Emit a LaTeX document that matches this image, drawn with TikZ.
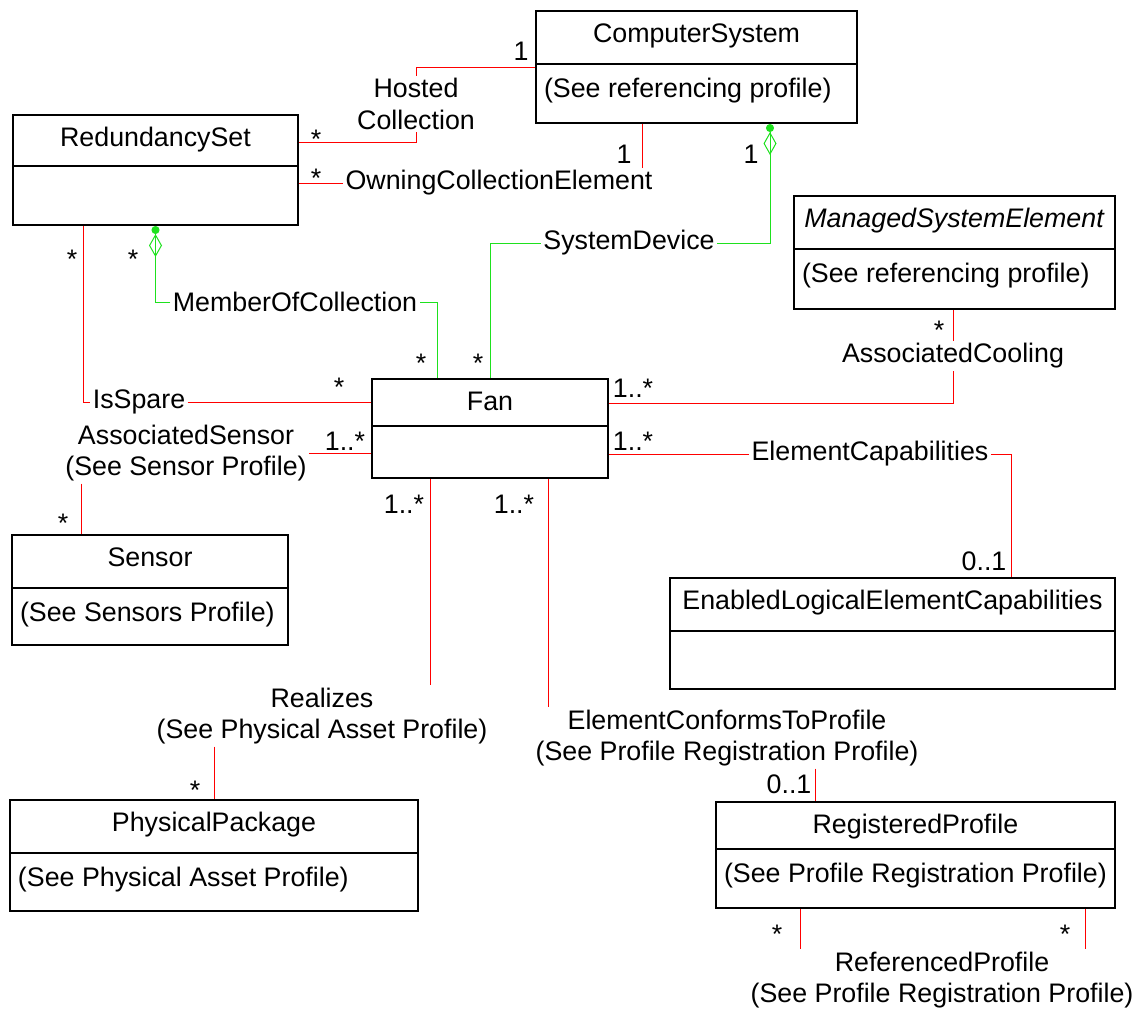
\documentclass[tikz,border=0pt]{standalone}
\usepackage{fontspec}
\setmainfont{Liberation Sans}
\usetikzlibrary{shapes.multipart, positioning, arrows.meta, calc}

\definecolor{umlgreen}{RGB}{30,225,30}
\newcommand{\titlestrut}[1]{\rule[-#1]{0pt}{\dimexpr15pt+#1\relax}}
\newcommand{\attrstrut}[1]{\rule[-\dimexpr#1-1pt\relax]{0pt}{\dimexpr15.25pt+#1\relax}}

\begin{document}
\begin{tikzpicture}[
        x=0.5pt, y=-0.5pt,
        every node/.style={font=\fontsize{13.4pt}{15.8pt}\selectfont},
        umlclass/.style={rectangle split, rectangle split parts=2, draw, line width=1pt, anchor=north west, inner xsep=4pt, inner ysep=0pt, rectangle split part align={center,left}},
        link/.style={draw=red, line width=0.5pt},
        complink/.style={draw=umlgreen, line width=0.5pt},
        aggr/.style={-{Diamond[open, length=11.5pt, width=6.5pt] Circle[length=4pt]}},
        assocname/.style={inner sep=1pt, align=center},
        multiplicity/.style={anchor=base, inner sep=0pt}
        ]

        \useasboundingbox (0,0) rectangle (1138,1012);

        % Classes
        \node[umlclass, minimum width=160.5pt] (cs) at (535,10) {\titlestrut{10.5pt}ComputerSystem\nodepart{two}\attrstrut{13.25pt}(See referencing profile)};
        \node[umlclass, minimum width=142.5pt] (rs) at (12,114) {\titlestrut{9.5pt}RedundancySet\nodepart{two}\attrstrut{13.25pt}};
        \node[umlclass, minimum width=160.5pt] (mse) at (793,195) {\titlestrut{10.5pt}\textit{ManagedSystemElement}\nodepart{two}\attrstrut{13.75pt}(See referencing profile)};
        \node[umlclass, minimum width=118pt] (fan) at (371,378) {\titlestrut{7.5pt}Fan\nodepart{two}\attrstrut{9.75pt}};
        \node[umlclass, minimum width=138pt] (sensor) at (11,534) {\titlestrut{10.5pt}Sensor\nodepart{two}\attrstrut{12.25pt}(See Sensors Profile)};
        \node[umlclass, minimum width=222.5pt] (elec) at (669,577) {\titlestrut{10.5pt}EnabledLogicalElementCapabilities\nodepart{two}\attrstrut{12.75pt}};
        \node[umlclass, minimum width=204pt] (pp) at (9,799) {\titlestrut{10.5pt}PhysicalPackage\nodepart{two}\attrstrut{12.75pt}(See Physical Asset Profile)};
        \node[umlclass, minimum width=199pt] (rp) at (715,801) {\titlestrut{7.5pt}RegisteredProfile\nodepart{two}\attrstrut{13.25pt}(See Profile Registration Profile)};

        % Association names
        \node[assocname] (hosted) at (416,104) {Hosted\\Collection};
        \node[assocname] (owning) at (499,183) {OwningCollectionElement};
        \node[assocname] (sysdev) at (629,243) {SystemDevice};
        \node[assocname] (moc) at (295,302) {MemberOfCollection};
        \node[assocname] (isspare) at (139,402) {IsSpare};
        \node[assocname] (assocsensor) at (186,453) {AssociatedSensor\\(See Sensor Profile)};
        \node[assocname] (cooling) at (953,356) {AssociatedCooling};
        \node[assocname] (elemcap) at (870,454) {ElementCapabilities};
        \node[assocname] (realizes) at (322,716) {Realizes\\(See Physical Asset Profile)};
        \node[assocname] (ectp) at (727,738) {ElementConformsToProfile\\(See Profile Registration Profile)};
        \node[assocname] (refprof) at (942,980) {ReferencedProfile\\(See Profile Registration Profile)};

        % Attach points
        \coordinate (csown) at ($(cs.south west)+(107,0)$);
        \coordinate (cssys) at ($(cs.south west)+(235,0)$);
        \coordinate (fanmoc) at ($(fan.north west)+(66,0)$);
        \coordinate (rsspare) at ($(rs.south west)+(71,0)$);
        \coordinate (sensoratt) at ($(sensor.north west)+(70,0)$);
        \coordinate (fancool) at ($(fan.north east)+(0,25)$);
        \coordinate (eleccap) at ($(elec.north west)+(342,0)$);
        \coordinate (fanreal) at ($(fan.south west)+(59,0)$);
        \coordinate (fanectp) at ($(fan.south west)+(177,0)$);
        \coordinate (rpectp) at ($(rp.north west)+(100,0)$);
        \coordinate (rpref1) at ($(rp.south west)+(85,0)$);
        \coordinate (rpref2) at ($(rp.south west)+(370,0)$);

        % Links
        \draw[link] (cs.west) -| (hosted.north);
        \draw[link] (hosted.south) |- ($(rs.north east)+(0,28)$);
        \draw[link] (owning.west) -- (owning.west -| rs.east);
        \draw[link] (csown) -- (csown |- owning.north);
        \draw[complink] (fan.north) |- (sysdev.west);
        \draw[complink, aggr] (sysdev.east) -| (cssys);
        \draw[complink] (fanmoc) |- (moc.east);
        \draw[complink, aggr] (moc.west) -| (rs.south);
        \draw[link] (rsspare) |- (isspare.west);
        \draw[link] (isspare.east) -- (isspare.east -| fan.west);
        \draw[link] (assocsensor.east) -- (assocsensor.east -| fan.west);
        \draw[link] (sensoratt |- assocsensor.south) -- (sensoratt);
        \draw[link] (fancool) -| (cooling.south);
        \draw[link] (cooling.north) -- (cooling.north |- mse.south);
        \draw[link] (elemcap.west) -- (elemcap.west -| fan.east);
        \draw[link] (elemcap.east) -| (eleccap);
        \draw[link] (fanreal) -- (fanreal |- realizes.north);
        \draw[link] (realizes.south -| pp.north) -- (pp.north);
        \draw[link] (fanectp) -- (fanectp |- ectp.north);
        \draw[link] (rpectp |- ectp.south) -- (rpectp);
        \draw[link] (rpref1) -- (rpref1 |- refprof.north);
        \draw[link] (rpref2) -- (rpref2 |- refprof.north);

        % Multiplicities
        \node[multiplicity] (m-cs-hosted) at (521,60) {1};
        \node[multiplicity] (m-rs-hosted) at (316,148) {*};
        \node[multiplicity] (m-rs-owning) at (316,187) {*};
        \node[multiplicity] (m-cs-owning) at (624,163) {1};
        \node[multiplicity] (m-cs-sysdev) at (751,163) {1};
        \node[multiplicity] (m-fan-sysdev) at (478,372) {*};
        \node[multiplicity] (m-fan-moc) at (421,372) {*};
        \node[multiplicity] (m-rs-moc) at (133,268) {*};
        \node[multiplicity] (m-rs-spare) at (72,268) {*};
        \node[multiplicity] (m-fan-spare) at (339,396) {*};
        \node[multiplicity] (m-fan-sensor) at (345,450) {1..*};
        \node[multiplicity] (m-sensor) at (63,532) {*};
        \node[multiplicity] (m-mse) at (939,339) {*};
        \node[multiplicity] (m-fan-cool) at (633,397) {1..*};
        \node[multiplicity] (m-fan-cap) at (633,450) {1..*};
        \node[multiplicity] (m-elec) at (984,570) {0..1};
        \node[multiplicity] (m-fan-real) at (404,513) {1..*};
        \node[multiplicity] (m-pp) at (195,799) {*};
        \node[multiplicity] (m-fan-ectp) at (514,513) {1..*};
        \node[multiplicity] (m-rp-ectp) at (789,793) {0..1};
        \node[multiplicity] (m-rp-ref1) at (777,943) {*};
        \node[multiplicity] (m-rp-ref2) at (1065,943) {*};

    \end{tikzpicture}
\end{document}
